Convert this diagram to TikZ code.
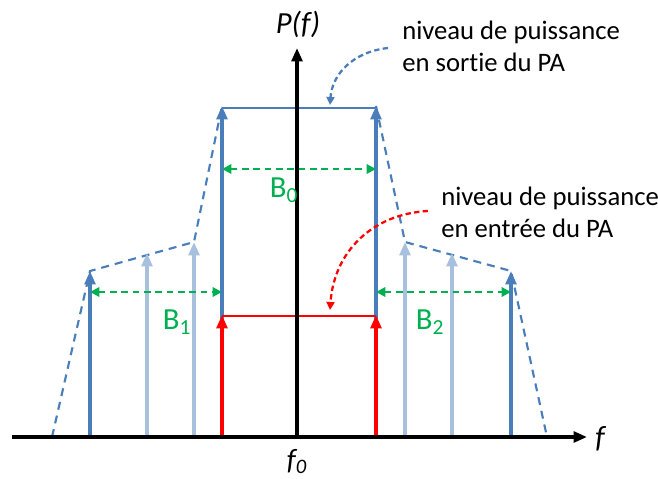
\documentclass[tikz,border=0pt]{standalone}
\usepackage{fontspec}
\setmainfont[Ligatures=NoCommon]{Carlito}
\usetikzlibrary{arrows.meta}
\definecolor{pablue}{HTML}{4A7EBB}
\definecolor{palight}{HTML}{A7C0DE}
\definecolor{pagreen}{HTML}{00B050}
\begin{document}
\begin{tikzpicture}[
        x=0.75pt, y=-0.75pt,
        axis/.style={line width=3pt, -{Triangle[width=8pt, length=10pt]}},
        carrier/.style={line width=3pt, pablue, -{Triangle[width=8pt, length=10pt]}},
        spur/.style={line width=2.5pt, palight, -{Triangle[width=8pt, length=10pt]}},
        input/.style={line width=2.5pt, red, -{Triangle[width=8pt, length=10pt]}},
        envelope/.style={line width=1.6pt, pablue, dash pattern=on 6pt off 4.5pt},
        band/.style={line width=1.6pt, pagreen, dash pattern=on 5pt off 3.5pt, {Triangle[width=7pt, length=7pt]}-{Triangle[width=7pt, length=7pt]}},
        pointer/.style={line width=1.7pt, dash pattern=on 4pt off 2.5pt, -{Triangle[width=6pt, length=6pt]}},
        note/.style={align=left, inner sep=0pt, font=\fontsize{20}{24}\selectfont},
        axlabel/.style={inner sep=0pt, font=\fontsize{23}{27}\selectfont\itshape},
        bwlabel/.style={inner sep=0pt, text=pagreen, font=\fontsize{23}{27}\selectfont},
    ]
        \useasboundingbox (0,0) rectangle (658,479);

        % Points on the frequency axis
        \coordinate (xstart) at (12,437);
        \coordinate (xend) at (587,437);
        \coordinate (orig) at (297,437);
        \coordinate (yend) at (297,48);
        \coordinate (l3) at (90,437);   \coordinate (l3t) at (90,271);
        \coordinate (l2) at (147,437);  \coordinate (l2t) at (147,253);
        \coordinate (l1) at (194,437);  \coordinate (l1t) at (194,242);
        \coordinate (c1) at (222,437);  \coordinate (c1t) at (222,106);
        \coordinate (c2) at (376,437);  \coordinate (c2t) at (376,106);
        \coordinate (r1) at (405,437);  \coordinate (r1t) at (405,242);
        \coordinate (r2) at (452,437);  \coordinate (r2t) at (452,253);
        \coordinate (r3) at (511,437);  \coordinate (r3t) at (511,271);
        \coordinate (i1t) at (222,315);
        \coordinate (i2t) at (376,315);

        % Output spectrum envelope
        \draw[envelope] (52,437) -- (l3t) -- (l1t) -- (c1t);
        \draw[envelope] (c2t) -- (r1t) -- (r3t) -- (547,437);

        % Carriers and intermodulation products
        \draw[carrier] (c1) -- (c1t);
        \draw[carrier] (c2) -- (c2t);
        \draw[carrier] (l3) -- (l3t);
        \draw[carrier] (r3) -- (r3t);
        \draw[spur] (l2) -- (l2t);
        \draw[spur] (l1) -- (l1t);
        \draw[spur] (r1) -- (r1t);
        \draw[spur] (r2) -- (r2t);
        \draw[input] (c1) -- (i1t);
        \draw[input] (c2) -- (i2t);

        % Power levels
        \coordinate (outl) at (222,108);  \coordinate (outr) at (376,108);
        \coordinate (inl) at (222,316);   \coordinate (inr) at (376,316);
        \draw[line width=2pt, pablue] (outl) -- (outr);
        \draw[line width=2pt, red] (inl) -- (inr);

        % Axes
        \draw[axis] (xstart) -- (xend);
        \draw[axis] (orig) -- (yend);
        \node[axlabel] (plabel) at (298,24) {P(f)};
        \node[axlabel] (flabel) at (600,439) {f};
        \node[axlabel, anchor=base, font=\fontsize{22}{26}\selectfont\itshape] (f0label) at (297,469) {f\textsubscript{0}};

        % Bandwidths
        \coordinate (b0l) at (222,169);  \coordinate (b0r) at (376,169);
        \coordinate (b1l) at (90,292);   \coordinate (b1r) at (222,292);
        \coordinate (b2l) at (376,292);  \coordinate (b2r) at (511,292);
        \draw[band] (b0l) -- (b0r);
        \draw[band] (b1l) -- (b1r);
        \draw[band] (b2l) -- (b2r);
        \node[bwlabel] (b0) at (284,190) {B\textsubscript{0}};
        \node[bwlabel] (b1) at (177,322) {B\textsubscript{1}};
        \node[bwlabel] (b2) at (430,322) {B\textsubscript{2}};

        % Annotations
        \node[note, anchor=west] (outnote) at (402,46) {niveau de puissance\\en sortie du PA};
        \node[note, anchor=west] (innote) at (441,212) {niveau de puissance\\en entrée du PA};
        \coordinate (outfrom) at (388,48);
        \coordinate (outto) at (330,105);
        \coordinate (infrom) at (428,211);
        \coordinate (into) at (330,310);
        \draw[pointer, pablue] (outfrom) .. controls (352,52) and (332,75) .. (outto);
        \draw[pointer, red] (infrom) .. controls (372,214) and (334,252) .. (into);
    \end{tikzpicture}
\end{document}
